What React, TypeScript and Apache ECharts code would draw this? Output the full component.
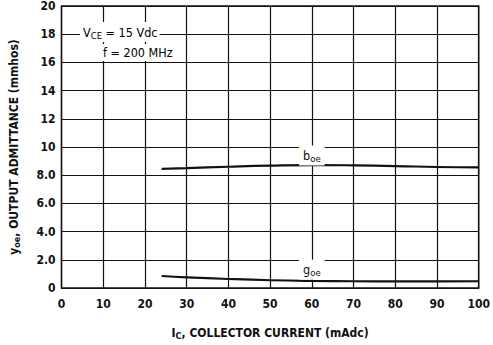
import React, { useEffect, useRef } from "react";
import * as echarts from "echarts";

// Collector current (mAdc)
const currentMa = [24, 30, 40, 50, 60, 70, 80, 90, 100];
// b_oe, output susceptance (mmhos)
const bOe = [8.45, 8.5, 8.6, 8.68, 8.72, 8.7, 8.65, 8.58, 8.55];
// g_oe, output conductance (mmhos)
const gOe = [0.85, 0.76, 0.64, 0.55, 0.5, 0.48, 0.47, 0.47, 0.48];

// Curve name positions (mAdc, mmhos)
const curveNames = [
  { text: "{m|b}{s|oe}", x: 60, y: 9.4 },
  { text: "{m|g}{s|oe}", x: 60, y: 1.3 },
];

const yTickLabels: Record<number, string> = {
  0: "0", 2: "2.0", 4: "4.0", 6: "6.0", 8: "8.0",
  10: "10", 12: "12", 14: "14", 16: "16", 18: "18", 20: "20",
};

const FONT = "'DejaVu Sans Condensed', 'Liberation Sans', sans-serif";
const INK = "#111";

export default function App() {
  const ref = useRef<HTMLDivElement>(null);

  useEffect(() => {
    if (!ref.current) return;
    const chart = echarts.init(ref.current, null, { renderer: "svg" });

    const rich = (size: number, weight: "bold" | "normal") => ({
      m: { fontFamily: FONT, fontSize: size, color: INK, fontWeight: weight, textBorderWidth: 0 },
      s: {
        fontFamily: FONT,
        fontSize: size - 3,
        color: INK,
        fontWeight: weight,
        textBorderWidth: 0,
        padding: [6, 0, 0, 0],
      },
    });

    chart.setOption({
      animation: false,
      backgroundColor: "#fff",
      grid: {
        left: 58,
        right: 8,
        top: 5,
        bottom: 54,
        show: true,
        borderColor: INK,
        borderWidth: 1.5,
        backgroundColor: "transparent",
      },
      xAxis: {
        type: "value",
        min: 0,
        max: 100,
        interval: 10,
        name: "{m|I}{s|C}{m|, COLLECTOR CURRENT (mAdc)}",
        nameLocation: "middle",
        nameGap: 37,
        nameTextStyle: { rich: rich(12, "bold") },
        axisLine: { show: false },
        axisTick: { show: false },
        axisLabel: {
          margin: 10,
          fontFamily: FONT,
          fontSize: 12,
          fontWeight: "bold",
          color: INK,
        },
        splitLine: { show: true, lineStyle: { color: INK, width: 1.2 } },
      },
      yAxis: {
        type: "value",
        min: 0,
        max: 20,
        interval: 2,
        name: "{m|y}{s|oe}{m|, OUTPUT ADMITTANCE (mmhos)}",
        nameLocation: "middle",
        nameGap: 40,
        nameTextStyle: { rich: rich(12, "bold") },
        axisLine: { show: false },
        axisTick: { show: false },
        axisLabel: {
          margin: 6,
          fontFamily: FONT,
          fontSize: 12,
          fontWeight: "bold",
          color: INK,
          formatter: (v: number) => yTickLabels[v] ?? String(v),
        },
        splitLine: { show: true, lineStyle: { color: INK, width: 1.2 } },
      },
      graphic: [
        {
          type: "text",
          left: 80,
          top: 22,
          z: 10,
          style: {
            text: "{m|V}{s|CE}{m| = 15 Vdc}",
            backgroundColor: "#fff",
            padding: [2, 2, 2, 3],
            rich: rich(12.5, "normal"),
          },
        },
        {
          type: "text",
          left: 96,
          top: 44,
          z: 10,
          style: {
            text: "{m|f = 200 MHz}",
            backgroundColor: "#fff",
            padding: [2, 3, 2, 7],
            rich: rich(12.5, "normal"),
          },
        },
      ],
      series: [
        {
          name: "boe",
          type: "line",
          data: currentMa.map((x, i) => [x, bOe[i]]),
          showSymbol: false,
          smooth: true,
          lineStyle: { color: INK, width: 2.2 },
        },
        {
          name: "goe",
          type: "line",
          data: currentMa.map((x, i) => [x, gOe[i]]),
          showSymbol: false,
          smooth: true,
          lineStyle: { color: INK, width: 2.2 },
        },
        {
          name: "curve names",
          type: "scatter",
          z: 5,
          silent: true,
          symbolSize: 1,
          itemStyle: { color: "#fff", opacity: 1 },
          data: curveNames.map((c) => ({
            value: [c.x, c.y],
            label: {
              show: true,
              position: "inside",
              formatter: c.text,
              color: INK,
              opacity: 1,
              textBorderWidth: 0,
              backgroundColor: "#fff",
              padding: [2, 4, 2, 4],
              rich: rich(12.5, "normal"),
            },
          })),
        },
      ],
    });

    return () => chart.dispose();
  }, []);

  return (
    <div
      ref={ref}
      style={{ position: "fixed", left: 0, top: 0, width: 493, height: 345, background: "#fff" }}
    />
  );
}
